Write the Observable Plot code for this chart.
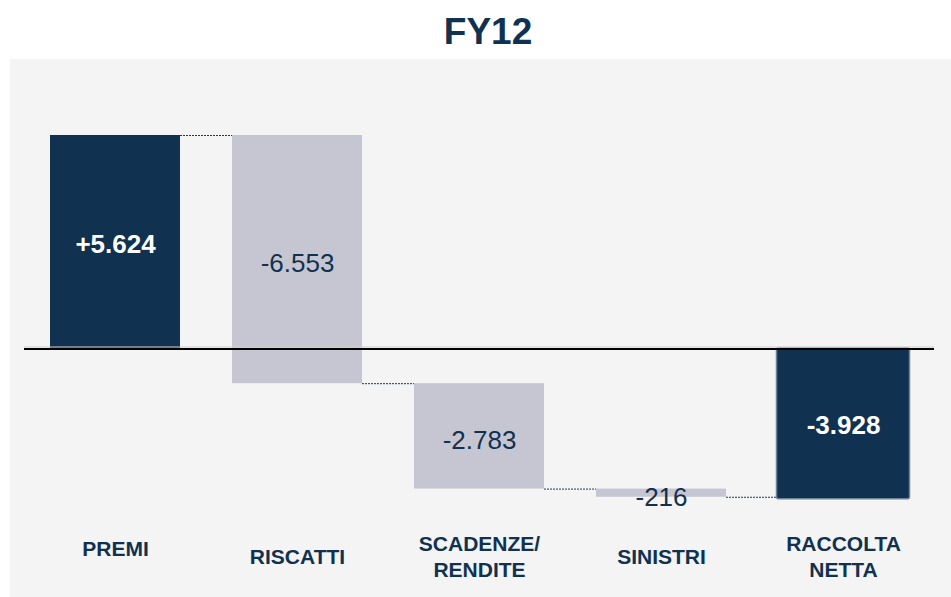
<!DOCTYPE html>
<html>
<head>
<meta charset="utf-8">
<script src="https://cdn.jsdelivr.net/npm/d3@7"></script>
<script src="https://cdn.jsdelivr.net/npm/@observablehq/plot@0.6"></script>
<style>
  html, body { margin: 0; padding: 0; background: #ffffff; }
  body { width: 951px; height: 597px; overflow: hidden; font-family: "Liberation Sans", Arial, sans-serif; }
  #title {
    width: 951px; height: 59px; box-sizing: border-box;
    padding-top: 13px; padding-left: 25px;
    text-align: center; font-size: 37px; line-height: 1; font-weight: bold; color: #10314f;
  }
  #chart svg { display: block; margin-left: 10px; }
</style>
</head>
<body>
<div id="title">FY12</div>
<div id="chart"></div>
<script>
// ---- data ----
const categories = ["PREMI", "RISCATTI", "SCADENZE/\nRENDITE", "SINISTRI", "RACCOLTA\nNETTA"];
const values = [5624, -6553, -2783, -216, -3928];
const kinds = ["total", "delta", "delta", "delta", "total"];
const valueLabels = ["+5.624", "-6.553", "-2.783", "-216", "-3.928"];

// ---- waterfall table ----
let run = 0;
const rows = categories.map((c, i) => {
  let start, end;
  if (kinds[i] === "total") { start = 0; end = values[i]; run = values[i]; }
  else { start = run; end = run + values[i]; run = end; }
  return {cat: c, start, end, kind: kinds[i], label: valueLabels[i], mid: (start + end) / 2};
});
const connectors = rows.slice(0, -1).map((r, i) => ({from: r.cat, to: rows[i + 1].cat, level: r.end}));

// ---- layout ----
const W = 941, H = 538;
const x0 = 14, x1 = 924;
const step = (x1 - x0) / categories.length;
const bw = 130;
const pin = (step - bw) / step;
const k = 213 / 5624;      // px per unit
const zeroPx = 289;
const navy = "#10314f", grey = "#c6c6d3";
const font = "'Liberation Sans', Arial, sans-serif";

const chart = Plot.plot({
  width: W, height: H,
  marginLeft: x0, marginRight: W - x1, marginTop: 0, marginBottom: 43,
  style: {background: "#f4f4f4", fontFamily: font, overflow: "visible"},
  x: {domain: categories, range: [x0, x1], paddingInner: pin, paddingOuter: pin / 2, align: 0.5, axis: null},
  y: {domain: [-5000, 6000], range: [zeroPx + 5000 * k, zeroPx - 6000 * k], axis: null},
  marks: [
    Plot.ruleY(connectors, {x1: "from", x2: "to", y: "level", insetLeft: bw, insetRight: bw,
      stroke: "#1c3b5a", strokeWidth: 1, strokeDasharray: "2,1"}),
    Plot.barY(rows.filter(d => d.kind === "delta"), {x: "cat", y1: "start", y2: "end", fill: grey}),
    Plot.barY(rows.filter((d, i) => i === 0), {x: "cat", y1: "start", y2: "end", fill: navy}),
    Plot.barY(rows.filter((d, i) => i === rows.length - 1), {x: "cat", y1: "start", y2: "end", fill: navy,
      stroke: "#6d8198", strokeWidth: 1.5, rx: 2, insetLeft: -1.5, insetRight: -1.5, insetBottom: -2}),
    Plot.ruleY([0], {stroke: "#cfcfcf", strokeWidth: 1, dy: -1.5}),
    Plot.ruleY([0], {stroke: "#000000", strokeWidth: 2, dy: 0.5}),
    Plot.text(rows.filter(d => d.kind === "total"), {x: "cat", y: "mid", text: "label", fill: "#ffffff",
      fontSize: 26, fontWeight: "bold", dy: 3}),
    Plot.text(rows.filter(d => d.kind === "delta"), {x: "cat", y: "mid", text: "label", fill: navy,
      fontSize: 26, dy: 4}),
    Plot.text(rows.filter((d, i) => i === 0), {x: "cat", text: "cat", frameAnchor: "bottom", lineAnchor: "middle",
      fill: navy, fontSize: 21, fontWeight: "bold", lineHeight: 1.24, dy: -7}),
    Plot.text(rows.filter((d, i) => i > 0), {x: "cat", text: "cat", frameAnchor: "bottom", lineAnchor: "middle",
      fill: navy, fontSize: 21, fontWeight: "bold", lineHeight: 1.24, dy: 1})
  ]
});
document.getElementById("chart").appendChild(chart);
</script>
</body>
</html>
